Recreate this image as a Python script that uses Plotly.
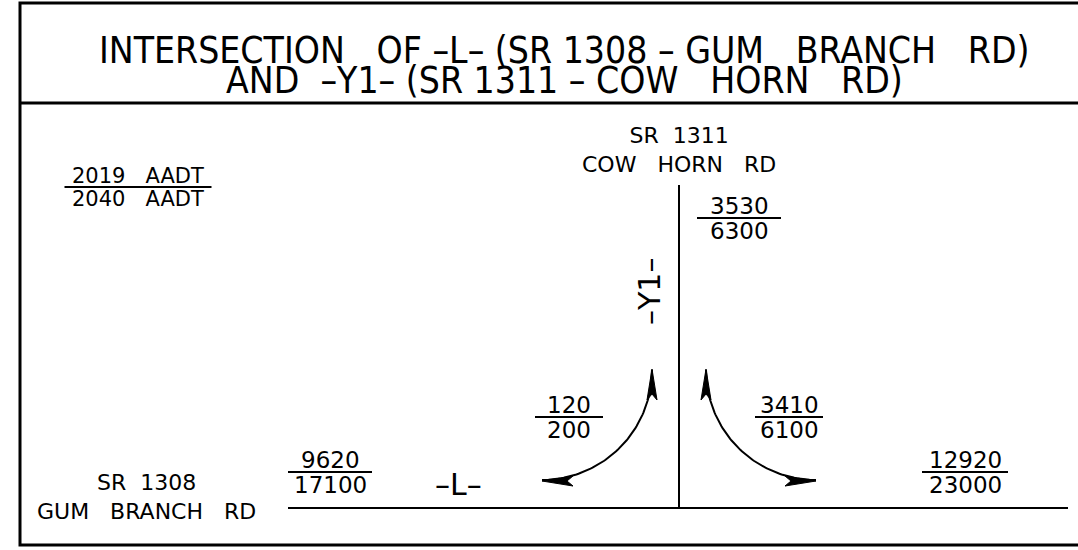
import numpy as np
import plotly.graph_objects as go

# ---- data ----
movements = ["-L- west", "-Y1- north", "-L- east", "left turn", "right turn"]
aadt_2019 = [9620, 3530, 12920, 120, 3410]
aadt_2040 = [17100, 6300, 23000, 200, 6100]
legend_top = "2019\u00a0\u00a0\u00a0AADT"
legend_bottom = "2040\u00a0\u00a0\u00a0AADT"
title_lines = ["INTERSECTION\u00a0\u00a0\u00a0OF\u00a0\u2013L\u2013\u00a0(SR\u00a01308\u00a0\u2013\u00a0GUM\u00a0\u00a0\u00a0BRANCH\u00a0\u00a0\u00a0RD)",
               "AND\u00a0\u00a0\u2013Y1\u2013\u00a0(SR\u00a01311\u00a0\u2013\u00a0COW\u00a0\u00a0\u00a0HORN\u00a0\u00a0\u00a0RD)"]
road_labels = ["SR\u00a0\u00a01308<br>GUM\u00a0\u00a0\u00a0BRANCH\u00a0\u00a0\u00a0RD",
               "SR\u00a0\u00a01311<br>COW\u00a0\u00a0\u00a0HORN\u00a0\u00a0\u00a0RD"]

# ---- layout constants (pixel-like axis units) ----
W, H = 1078, 550
FONT = "DejaVu Sans, Lato, sans-serif"
TFONT = "Liberation Sans Narrow, DejaVu Sans Condensed, Arial Narrow, Liberation Sans, sans-serif"
frac_pos = [(330, 472, 84), (739, 218, 84), (965, 472, 86), (569, 417, 68), (789, 417, 68)]  # center x, line y, line length
legend_pos = (138, 187, 147)

fig = go.Figure()
shapes = []
ann = []

def hline(x0, x1, y, w=2):
    shapes.append(dict(type="line", xref="x", yref="y", x0=x0, x1=x1, y0=y, y1=y,
                       line=dict(color="black", width=w)))

def frac(cx, ly, ln, top, bot, size=22):
    hline(cx - ln / 2, cx + ln / 2, ly, 2)
    ann.append(dict(x=cx, y=ly + 3, text=top, yanchor="bottom", font=dict(size=size)))
    ann.append(dict(x=cx, y=ly - 2, text=bot, yanchor="top", font=dict(size=size)))

# frame
shapes.append(dict(type="rect", xref="x", yref="y", x0=20, x1=1095, y0=3, y1=545,
                   line=dict(color="black", width=3)))
hline(20, 1095, 103, 3)

# roads
hline(288, 1068, 508, 2)
shapes.append(dict(type="line", xref="x", yref="y", x0=679, x1=679, y0=185, y1=508,
                   line=dict(color="black", width=2)))

# fractions
for (cx, ly, ln), a, b in zip(frac_pos, aadt_2019, aadt_2040):
    frac(cx, ly, ln, str(a), str(b), 23)
frac(legend_pos[0], legend_pos[1], legend_pos[2], legend_top, legend_bottom, 21)

# title
ann.append(dict(x=564, y=50, text=title_lines[0], font=dict(size=37, family=TFONT)))
ann.append(dict(x=564, y=80, text=title_lines[1], font=dict(size=37, family=TFONT)))

# road labels
ann.append(dict(x=146, y=497, text=road_labels[0], font=dict(size=22)))
ann.append(dict(x=679, y=150, text=road_labels[1], font=dict(size=22)))
ann.append(dict(x=458, y=484, text="\u2013L\u2013", font=dict(size=30)))
ann.append(dict(x=649, y=292, text="\u2013Y1\u2013", textangle=-90, font=dict(size=30)))

# turning arcs + arrowheads
def arrowhead(tx, ty, dx, dy, L=31, hw=5, notch=6):
    px, py = -dy, dx
    bx, by = tx - dx * L, ty - dy * L
    nx, ny = tx - dx * (L - notch), ty - dy * (L - notch)
    return (f"M{tx},{ty} L{bx + px * hw},{by + py * hw} L{nx},{ny} "
            f"L{bx - px * hw},{by - py * hw} Z")

for cx, sgn in [(542, 1), (816, -1)]:
    R = 110
    t = np.linspace(0, np.pi / 2, 80)
    xs = cx + sgn * R * np.cos(t)
    ys = 370 + R * np.sin(t)
    fig.add_trace(go.Scatter(x=xs, y=ys, mode="lines", line=dict(color="black", width=2),
                             hoverinfo="skip", showlegend=False))
    shapes.append(dict(type="path", xref="x", yref="y", fillcolor="black",
                       line=dict(color="black", width=1),
                       path=arrowhead(cx + sgn * R, 369, 0, -1)))
    shapes.append(dict(type="path", xref="x", yref="y", fillcolor="black",
                       line=dict(color="black", width=1),
                       path=arrowhead(cx, 481, -sgn, 0)))

for a in ann:
    a.setdefault("showarrow", False)
    a.setdefault("xref", "x")
    a.setdefault("yref", "y")
    f = a.setdefault("font", {})
    f.setdefault("family", FONT)
    f.setdefault("color", "black")

fig.update_layout(
    width=W, height=H, margin=dict(l=0, r=0, t=0, b=0),
    paper_bgcolor="white", plot_bgcolor="white",
    xaxis=dict(range=[0, W], visible=False, fixedrange=True),
    yaxis=dict(range=[H, 0], visible=False, fixedrange=True),
    shapes=shapes, annotations=ann, showlegend=False,
)
fig.write_html("out.html", config={"displayModeBar": False},
               post_script="document.body.style.margin='0';document.body.style.overflow='hidden';")
